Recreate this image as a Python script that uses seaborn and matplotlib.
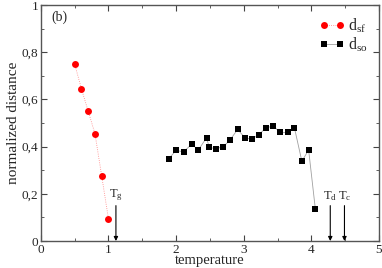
import matplotlib
matplotlib.use("Agg")
import matplotlib.pyplot as plt
import seaborn as sns
import pandas as pd
from matplotlib.ticker import MultipleLocator, FuncFormatter

sns.set_style("ticks")
plt.rcParams['font.family'] = ['Liberation Serif', 'DejaVu Serif']
plt.rcParams['mathtext.fontset'] = 'custom'
plt.rcParams['mathtext.rm'] = 'Liberation Serif'
plt.rcParams['mathtext.it'] = 'Liberation Serif'

sf_x = [0.5, 0.6, 0.7, 0.8, 0.9, 1.0]
sf_y = [0.75, 0.645, 0.55, 0.455, 0.275, 0.093]

so_x = [1.89, 2.00, 2.11, 2.23, 2.33, 2.45, 2.49, 2.59, 2.70, 2.80, 2.91, 3.02,
        3.12, 3.22, 3.33, 3.44, 3.54, 3.65, 3.75, 3.86, 3.96, 4.06]
so_y = [0.349, 0.384, 0.378, 0.41, 0.386, 0.438, 0.397, 0.391, 0.40, 0.429, 0.473, 0.437,
        0.432, 0.45, 0.48, 0.487, 0.46, 0.46, 0.48, 0.338, 0.386, 0.134]

arrow_x = [1.11, 4.28, 4.49]
arrow_labels = [r"T$_\mathrm{g}$", r"T$_\mathrm{d}$", r"T$_\mathrm{c}$"]

fig = plt.figure(figsize=(3.82, 2.68), dpi=100)
ax = fig.add_axes([0.107, 0.1007, 0.885, 0.8803])

sns.lineplot(x=sf_x, y=sf_y, ax=ax, color="red", marker="o", markersize=5,
             markeredgewidth=0, linewidth=0.6, linestyle=":", estimator=None,
             sort=False, label=r"d$_\mathrm{sf}$", legend=False)
l1 = ax.lines[-1]
l1.set_color("#ff8080")
l1.set_markerfacecolor("red")
l1.set_markeredgecolor("red")
l1.set_label(r"d$_\mathrm{sf}$")
sns.lineplot(x=so_x, y=so_y, ax=ax, color="black", marker="s", markersize=4.2,
             markeredgewidth=0, linewidth=0.6, estimator=None, sort=False,
             label=r"d$_\mathrm{so}$", legend=False)
l2 = ax.lines[-1]
l2.set_color("#a0a0a0")
l2.set_markerfacecolor("black")
l2.set_markeredgecolor("black")
l2.set_label(r"d$_\mathrm{so}$")

for xv, lab in zip(arrow_x, arrow_labels):
    ax.annotate("", xy=(xv, 0.0), xytext=(xv, 0.15),
                arrowprops=dict(arrowstyle="-|>", color="black", lw=0.8,
                                mutation_scale=6, shrinkA=0, shrinkB=0))
    ax.text(xv, 0.16, lab, ha="center", va="bottom", fontsize=9)

ax.text(0.16, 0.947, "(b)", ha="left", va="center", fontsize=10)

ax.set_xlim(0, 5)
ax.set_ylim(0, 1)
ax.xaxis.set_major_locator(MultipleLocator(1))
ax.xaxis.set_minor_locator(MultipleLocator(0.5))
ax.yaxis.set_major_locator(MultipleLocator(0.2))
ax.yaxis.set_minor_locator(MultipleLocator(0.1))
ax.yaxis.set_major_formatter(FuncFormatter(lambda v, p: ("%g" % round(v, 1)).replace(".", ",")))
ax.tick_params(which="both", direction="in", top=True, right=True, labelsize=9.5,
               color="#444444")
ax.tick_params(which="major", length=4, width=0.8, pad=2)
ax.tick_params(which="minor", length=2, width=0.6)
for s in ax.spines.values():
    s.set_color("#555555")
    s.set_linewidth(1.0)
ax.set_xlabel("temperature", fontsize=10.5, labelpad=-1)
ax.set_ylabel("normalized distance", fontsize=11, labelpad=1)

leg = ax.legend(handles=[l1, l2], loc="upper right", frameon=False, fontsize=11.5,
                handlelength=1.6, handletextpad=0.2, labelspacing=0.05,
                borderaxespad=0.3, numpoints=2)

fig.savefig("out.png", dpi=100)
